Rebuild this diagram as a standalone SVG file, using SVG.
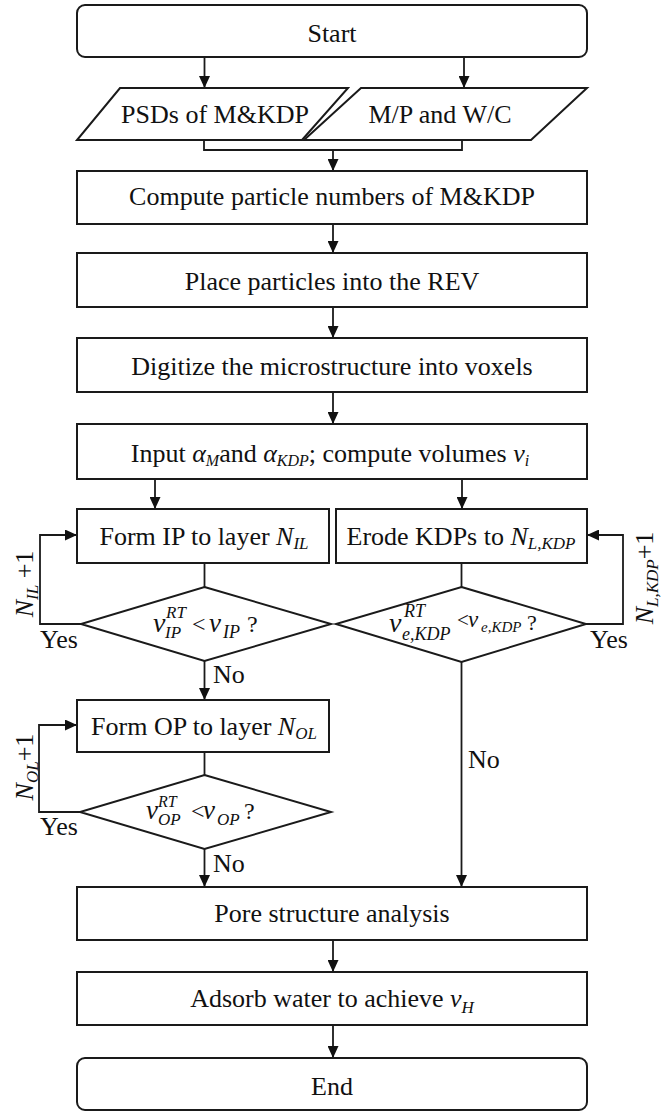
<svg xmlns="http://www.w3.org/2000/svg" width="661" height="1112" viewBox="0 0 661 1112">
<style>
.box{fill:#fff;stroke:#1a1a1a;stroke-width:2}
.ln{fill:none;stroke:#1a1a1a;stroke-width:1.8}
.t{font-family:"Liberation Serif","Times New Roman",serif;font-size:26px;fill:#111}
.c{text-anchor:middle}
.i{font-style:italic}
</style>
<defs>
<marker id="ah" markerUnits="userSpaceOnUse" markerWidth="12" markerHeight="11" refX="12" refY="5.5" orient="auto">
<path d="M0,0 L12,5.5 L0,11 z" fill="#111"/>
</marker>
</defs>
<rect width="661" height="1112" fill="#fff"/>

<g id="connectors">
<path class="ln" d="M204.5,57 V88" marker-end="url(#ah)"/>
<path class="ln" d="M464,57 V88" marker-end="url(#ah)"/>
<path class="ln" d="M204,140 V150 H462 V140"/>
<path class="ln" d="M333,150 V171" marker-end="url(#ah)"/>
<path class="ln" d="M333,224 V253" marker-end="url(#ah)"/>
<path class="ln" d="M333,307 V338" marker-end="url(#ah)"/>
<path class="ln" d="M333,392 V424" marker-end="url(#ah)"/>
<path class="ln" d="M155,479 V509" marker-end="url(#ah)"/>
<path class="ln" d="M462,479 V509" marker-end="url(#ah)"/>
<path class="ln" d="M204.5,563 V587"/>
<path class="ln" d="M461.5,563 V587"/>
<path class="ln" d="M81,624 H40 V535 H77" marker-end="url(#ah)"/>
<path class="ln" d="M586,624 H623 V535 H587" marker-end="url(#ah)"/>
<path class="ln" d="M204.5,661 V700" marker-end="url(#ah)"/>
<path class="ln" d="M204.5,752 V775"/>
<path class="ln" d="M80,812 H39 V725 H77" marker-end="url(#ah)"/>
<path class="ln" d="M204.5,849 V887" marker-end="url(#ah)"/>
<path class="ln" d="M461.5,662 V887" marker-end="url(#ah)"/>
<path class="ln" d="M333,940 V972" marker-end="url(#ah)"/>
<path class="ln" d="M333,1025 V1058" marker-end="url(#ah)"/>
<text class="t" x="40" y="648">Yes</text>
<text class="t" x="590" y="648">Yes</text>
<text class="t" x="40" y="835">Yes</text>
<text class="t" x="213" y="683">No</text>
<text class="t" x="213" y="872">No</text>
<text class="t" x="468" y="768">No</text>
<text class="t c" transform="translate(33,584) rotate(-90)"><tspan class="i">N</tspan><tspan class="i" style="font-size:17px" dy="5">IL</tspan><tspan dy="-5"> +1</tspan></text>
<text class="t c" transform="translate(653,578) rotate(-90)"><tspan class="i">N</tspan><tspan class="i" style="font-size:17px" dy="5">L,KDP</tspan><tspan dy="-5">+1</tspan></text>
<text class="t c" transform="translate(33,767) rotate(-90)"><tspan class="i">N</tspan><tspan class="i" style="font-size:17px" dy="5">OL</tspan><tspan dy="-5">+1</tspan></text>
</g>

<g id="start">
<rect class="box" x="77" y="5" width="510" height="52" rx="8"/>
<text class="t c" x="332" y="42">Start</text>
</g>
<g id="psds">
<polygon class="box" points="120,88 348,88 302,140 77,140"/>
<text class="t c" x="215" y="123">PSDs of M&amp;KDP</text>
</g>
<g id="mp">
<polygon class="box" points="361,88 587,88 531,140 304,140"/>
<text class="t c" x="440" y="123">M/P and W/C</text>
</g>
<g id="compute">
<rect class="box" x="77" y="171" width="510" height="53"/>
<text class="t c" x="332" y="205">Compute particle numbers of M&amp;KDP</text>
</g>
<g id="place">
<rect class="box" x="77" y="253" width="510" height="54"/>
<text class="t c" x="332" y="290">Place particles into the REV</text>
</g>
<g id="digitize">
<rect class="box" x="77" y="338" width="510" height="54"/>
<text class="t c" x="332" y="375">Digitize the microstructure into voxels</text>
</g>
<g id="input">
<rect class="box" x="77" y="424" width="510" height="55"/>
<text class="t c" x="330" y="462">Input <tspan class="i">α</tspan><tspan class="i" style="font-size:16px" dy="4">M</tspan><tspan dy="-4">and </tspan><tspan class="i">α</tspan><tspan class="i" style="font-size:16px" dy="4">KDP</tspan><tspan dy="-4">; compute volumes </tspan><tspan class="i">v</tspan><tspan class="i" style="font-size:16px" dy="4">i</tspan></text>
</g>
<g id="formip">
<rect class="box" x="77" y="509" width="252" height="54"/>
<text class="t c" x="204" y="545">Form IP to layer <tspan class="i">N</tspan><tspan class="i" style="font-size:17px" dy="4">IL</tspan></text>
</g>
<g id="erode">
<rect class="box" x="336" y="509" width="251" height="54"/>
<text class="t c" x="461" y="545">Erode KDPs to <tspan class="i">N</tspan><tspan class="i" style="font-size:17px" dy="4">L,KDP</tspan></text>
</g>
<g id="decip">
<polygon class="box" points="204.5,587 331,624 204.5,661 81,624"/>
<text class="t i" x="153" y="632" style="font-size:28px">v</text>
<text class="t i" x="166" y="618" style="font-size:17px">RT</text>
<text class="t i" x="165" y="638" style="font-size:17px">IP</text>
<text class="t" x="192" y="632" style="font-size:24px">&lt;</text>
<text class="t i" x="209" y="632" style="font-size:27px">v</text>
<text class="t i" x="223" y="638" style="font-size:18px">IP</text>
<text class="t" x="247" y="632" style="font-size:24px">?</text>
</g>
<g id="deckdp">
<polygon class="box" points="461.5,587 586,624 461.5,662 336,624"/>
<text class="t i" x="389" y="632" style="font-size:28px">v</text>
<text class="t i" x="404" y="617" style="font-size:18px">RT</text>
<text class="t i" x="402" y="640" style="font-size:18px">e,KDP</text>
<text class="t" x="457" y="627" style="font-size:21px">&lt;</text>
<text class="t i" x="468" y="627" style="font-size:23px">v</text>
<text class="t i" x="481" y="632" style="font-size:15px">e,KDP</text>
<text class="t" x="527" y="630" style="font-size:22px">?</text>
</g>
<g id="formop">
<rect class="box" x="77" y="700" width="252" height="52"/>
<text class="t c" x="204" y="735">Form OP to layer <tspan class="i">N</tspan><tspan class="i" style="font-size:17px" dy="4">OL</tspan></text>
</g>
<g id="decop">
<polygon class="box" points="204.5,775 331,812 204.5,849 80,812"/>
<text class="t i" x="146" y="819" style="font-size:27px">v</text>
<text class="t i" x="158" y="807" style="font-size:16px">RT</text>
<text class="t i" x="158" y="825" style="font-size:17px">OP</text>
<text class="t" x="191" y="819" style="font-size:24px">&lt;</text>
<text class="t i" x="203" y="819" style="font-size:27px">v</text>
<text class="t i" x="217" y="825" style="font-size:17px">OP</text>
<text class="t" x="244" y="819" style="font-size:24px">?</text>
</g>
<g id="pore">
<rect class="box" x="77" y="887" width="510" height="53"/>
<text class="t c" x="332" y="922">Pore structure analysis</text>
</g>
<g id="adsorb">
<rect class="box" x="77" y="972" width="510" height="53"/>
<text class="t c" x="332" y="1007">Adsorb water to achieve <tspan class="i">v</tspan><tspan class="i" style="font-size:17px" dy="6">H</tspan></text>
</g>
<g id="end">
<rect class="box" x="77" y="1058" width="510" height="52" rx="8"/>
<text class="t c" x="332" y="1095">End</text>
</g>
</svg>
